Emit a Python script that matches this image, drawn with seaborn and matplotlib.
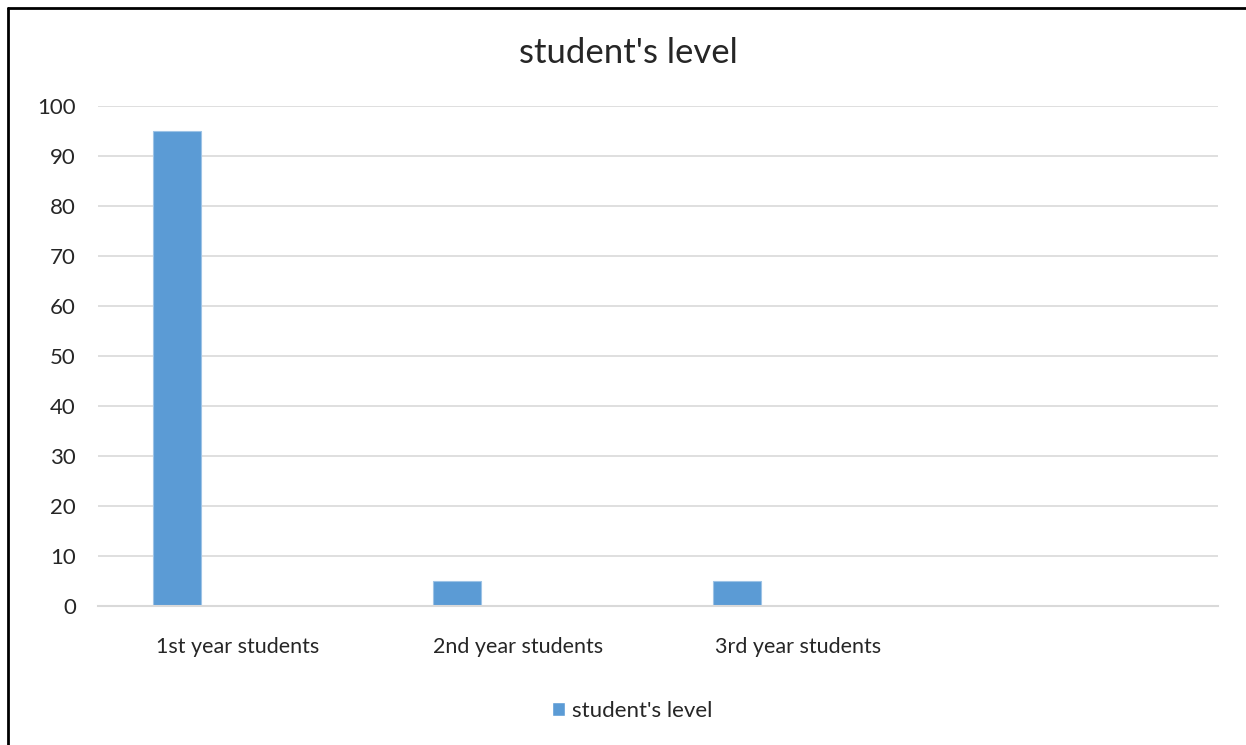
import matplotlib
matplotlib.use('Agg')
import matplotlib.pyplot as plt
from matplotlib.lines import Line2D
from matplotlib.patches import Patch
import pandas as pd
import seaborn as sns

categories = ['1st year students', '2nd year students', '3rd year students', '']
series_names = ["student's level", 'Series2', 'Series3']
level_values = [95, 5, 5]
y_ticks = [0, 10, 20, 30, 40, 50, 60, 70, 80, 90, 100]

bar_color = '#5B9BD5'
text_color = '#262626'

if __name__ == '__main__':
    sns.set_theme(style='white')
    plt.rcParams['font.family'] = ['Lato', 'DejaVu Sans']

    df = pd.DataFrame({
        'level': categories[:3],
        'count': level_values,
        'series': [series_names[0]] * 3,
    })

    fig = plt.figure(figsize=(12.46, 7.45), dpi=100)
    ax = fig.add_axes([98 / 1246, 1 - 606 / 745, (1218 - 98) / 1246, 500 / 745])

    sns.barplot(data=df, x='level', y='count', hue='series', order=categories,
                hue_order=series_names,
                palette={s: bar_color for s in series_names}, saturation=1,
                width=0.654, gap=0.215, dodge=True, legend=False, ax=ax,
                edgecolor='#9DC3E6', linewidth=0.8)

    ax.set_xlim(-0.5, len(categories) - 0.5)
    ax.set_ylim(0, 100)
    ax.set_yticks(y_ticks)
    ax.yaxis.grid(True, color='#D9D9D9', linewidth=1.2)
    ax.set_axisbelow(True)
    for side in ['top', 'right', 'left']:
        ax.spines[side].set_visible(False)
    ax.spines['bottom'].set_color('#D9D9D9')
    ax.spines['bottom'].set_linewidth(1.5)
    ax.tick_params(axis='both', length=0, colors=text_color)
    ax.tick_params(axis='x', pad=22, labelsize=15.5)
    ax.tick_params(axis='y', pad=16, labelsize=16)
    ax.set_xlabel('')
    ax.set_ylabel('')

    fig.text(0.504, 1 - 53 / 745, "student's level", ha='center', va='center',
             fontsize=25, color=text_color)

    ax.legend(handles=[Patch(facecolor=bar_color, label=series_names[0])],
              loc='center', bbox_to_anchor=(0.477, -0.21), frameon=False,
              fontsize=16, handlelength=0.6, handleheight=0.6,
              handletextpad=0.3, labelcolor=text_color)

    # frame lines on the left and top edges
    fig.add_artist(Line2D([8 / 1246, 8 / 1246], [0, 1 - 8 / 745], color='black', linewidth=2))
    fig.add_artist(Line2D([8 / 1246, 1], [1 - 8 / 745, 1 - 8 / 745], color='black', linewidth=2))

    fig.savefig('out.png', dpi=100, facecolor='white')
